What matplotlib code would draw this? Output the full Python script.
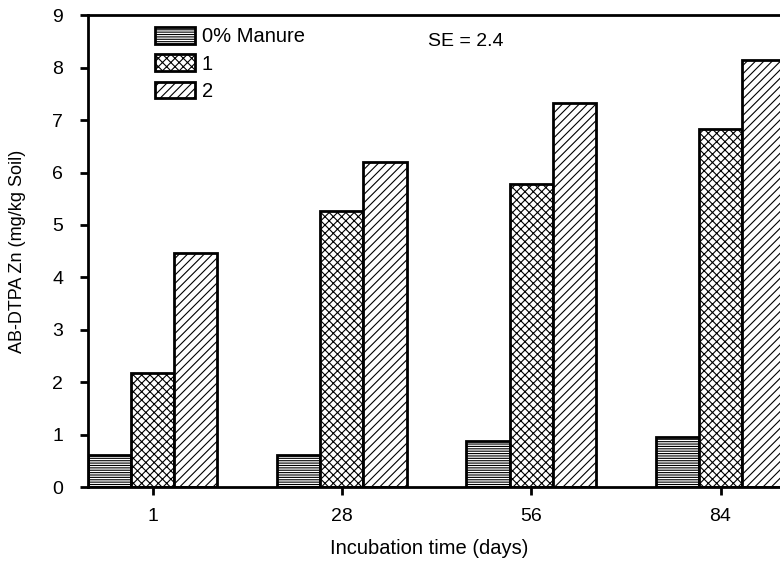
import matplotlib
matplotlib.use("Agg")
import matplotlib.pyplot as plt
import numpy as np

# incubation days and AB-DTPA Zn
days = ["1", "28", "56", "84"]
manure_labels = ["0% Manure", "1", "2"]
zn_0 = [0.62, 0.62, 0.87, 0.95]
zn_1 = [2.17, 5.27, 5.78, 6.83]
zn_2 = [4.47, 6.20, 7.33, 8.15]

plt.rcParams["font.family"] = ["Liberation Sans", "DejaVu Sans"]
plt.rcParams["hatch.linewidth"] = 0.8

fig = plt.figure(figsize=(7.8, 5.65), dpi=100)
ax = fig.add_axes([0.113, 0.138, 0.92, 0.835])

x = np.arange(len(days))
w = 0.228
hatches = ["-------", "xxxx", "////"]
for i, (vals, lab) in enumerate(zip([zn_0, zn_1, zn_2], manure_labels)):
    ax.bar(x + (i - 1) * w, vals, w, color="white", edgecolor="black",
           linewidth=2, hatch=hatches[i], label=lab)

ax.set_xlim(-0.34, 3.45)
ax.set_ylim(0, 9)
ax.set_yticks(range(10))
ax.set_xticks(x)
ax.set_xticklabels(days)
ax.tick_params(axis="both", direction="out", length=6, width=2, labelsize=14)
ax.tick_params(axis="y", pad=12)
ax.tick_params(axis="x", pad=9)
for s in ax.spines.values():
    s.set_linewidth(2)

ax.set_ylabel("AB-DTPA Zn (mg/kg Soil)", fontsize=13, va="center")
ax.yaxis.set_label_coords(-0.098, 0.5)
ax.set_xlabel("Incubation time (days)", fontsize=14.5, va="center")
ax.xaxis.set_label_coords(0.475, -0.13)

ax.legend(loc="upper left", bbox_to_anchor=(0.073, 1.005), frameon=False,
          fontsize=14.5, handlelength=2.0, handleheight=0.9, handletextpad=0.35,
          labelspacing=0.4, borderaxespad=0.3)
ax.text(0.473, 0.935, "SE = 2.4", transform=ax.transAxes, fontsize=14)

fig.savefig("out.png", dpi=100)
